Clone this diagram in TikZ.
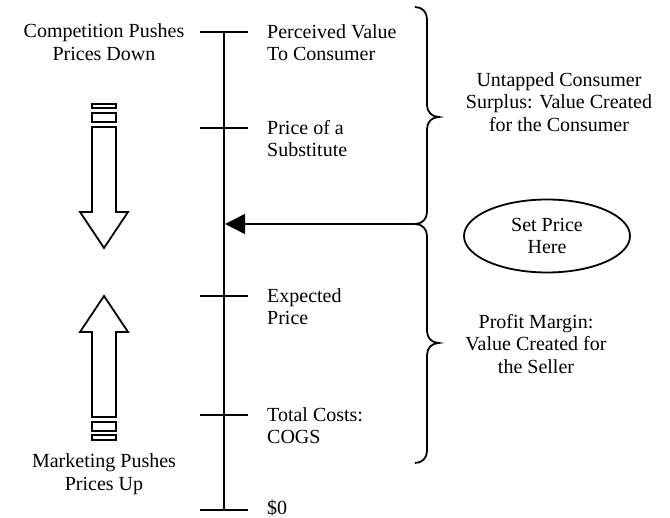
\documentclass[tikz,border=0pt]{standalone}
\usepackage{fontspec}
\setmainfont{Liberation Serif}
\usepackage{tikz}
\usetikzlibrary{arrows.meta}
\tikzset{>=latex}
\usetikzlibrary{shapes.geometric}
\tikzset{
  txt/.style={inner sep=0pt, font=\fontsize{20}{22.5}\selectfont},
  lbl/.style={txt, align=left, anchor=north west},
  ctr/.style={txt, align=center},
  thk/.style={line width=1.8pt},
}

\begin{document}
\begin{tikzpicture}[x=1pt, y=-1pt]
    \useasboundingbox (0,0) rectangle (670,518);

    \coordinate (top) at (224,32);
    \coordinate (zero) at (224,510);
    \draw[line width=2pt] (top) -- (zero);
    \foreach \y in {32,128,296,415,510}
      \draw[thk] (200,\y) -- (248,\y);

    \node[lbl] (perceived) at (267,24) {Perceived Value\\To Consumer};
    \node[lbl] (substitute) at (267,120) {Price of a\\Substitute};
    \node[lbl] (expected) at (267,288) {Expected\\Price};
    \node[lbl] (costs) at (267,407) {Total Costs:\\COGS};
    \node[lbl] (dollar) at (267,500) {\$0};

    \node[ctr] (competition) at (104,42) {Competition Pushes\\Prices Down};
    \node[ctr] (marketing) at (104,474) {Marketing Pushes\\Prices Up};

    \draw[thk] (92,104) rectangle (116,108);
    \draw[thk] (92,113) rectangle (116,122);
    \draw[thk] (92,127) -- (92,212) -- (80,212) -- (104,248) -- (128,212) -- (116,212) -- (116,127) -- cycle;

    \draw[thk] (104,296) -- (128,332) -- (116,332) -- (116,417) -- (92,417) -- (92,332) -- (80,332) -- cycle;
    \draw[thk] (92,422) rectangle (116,431);
    \draw[thk] (92,435) rectangle (116,440);

    \draw[thk] (415,7) .. controls (422,7) and (427,12) .. (427,19) -- (427,105)
      .. controls (427,112) and (432,117) .. (439,117)
      .. controls (432,117) and (427,122) .. (427,129) -- (427,212)
      .. controls (427,219) and (422,224) .. (415,224);
    \draw[thk] (415,224) .. controls (422,224) and (427,229) .. (427,236) -- (427,331)
      .. controls (427,338) and (432,343) .. (439,343)
      .. controls (432,343) and (427,348) .. (427,355) -- (427,451)
      .. controls (427,458) and (422,463) .. (415,463);

    \coordinate (meet) at (415,224);
    \coordinate (setprice) at (225,224);
    \draw[line width=1.5pt, -{Triangle[length=20pt,width=20pt]}] (meet) -- (setprice);

    \node[ctr] (surplus) at (559,102) {Untapped Consumer\\Surplus: Value Created\\for the Consumer};
    \node[ctr, ellipse, draw, thk, minimum width=166pt, minimum height=73pt] (here) at (547,236) {Set Price\\Here};
    \node[ctr] (margin) at (536,344) {Profit Margin:\\Value Created for\\the Seller};
  \end{tikzpicture}
\end{document}
